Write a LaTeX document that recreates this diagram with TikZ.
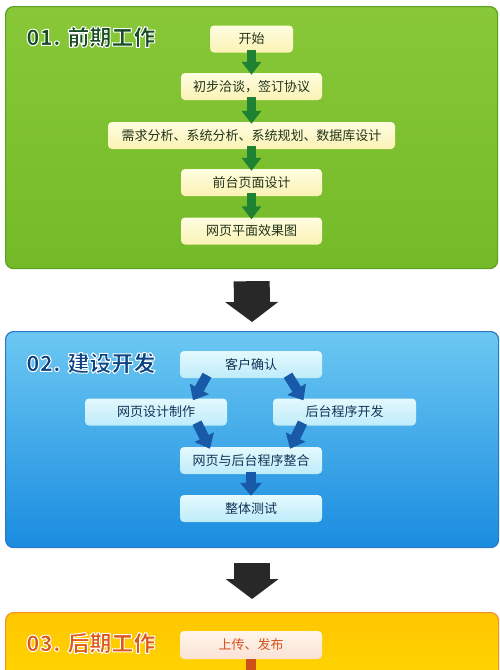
\documentclass[tikz,border=0pt]{standalone}
\usepackage{fontspec}
\setmainfont{Noto Sans CJK SC}
\usetikzlibrary{arrows.meta}

\definecolor{gpaneltop}{RGB}{136,200,56}
\definecolor{gpanelbot}{RGB}{116,186,40}
\definecolor{gpaneledge}{RGB}{92,160,32}
\definecolor{gboxtop}{RGB}{255,253,225}
\definecolor{gboxbot}{RGB}{250,242,180}
\definecolor{gtext}{RGB}{34,52,24}
\definecolor{gtitle}{RGB}{24,78,36}
\definecolor{garrow}{RGB}{30,130,50}
\definecolor{bpaneltop}{RGB}{108,200,242}
\definecolor{bpanelbot}{RGB}{26,140,224}
\definecolor{bpaneledge}{RGB}{40,120,196}
\definecolor{bboxtop}{RGB}{228,249,253}
\definecolor{bboxbot}{RGB}{190,236,250}
\definecolor{btext}{RGB}{20,50,88}
\definecolor{btitle}{RGB}{12,68,132}
\definecolor{barrow}{RGB}{24,90,168}
\definecolor{opaneltop}{RGB}{255,198,0}
\definecolor{opanelbot}{RGB}{255,224,0}
\definecolor{opaneledge}{RGB}{240,150,40}
\definecolor{oboxtop}{RGB}{255,245,236}
\definecolor{oboxbot}{RGB}{250,226,212}
\definecolor{otext}{RGB}{214,80,30}
\definecolor{otitle}{RGB}{222,88,28}
\definecolor{oarrow}{RGB}{205,80,25}
\definecolor{darkflow}{RGB}{40,40,40}

% title text: filled, with a white stroke round it
\newcommand{\ringtext}[2]{\textcolor{#1}{\special{pdf:literal direct 1 1 1 RG 1 w 1 j 2 Tr}#2\special{pdf:literal direct 0 Tr}}}

\tikzset{
  panel/.style={line width=1.2pt, rounded corners=8pt, anchor=north west,
    minimum width=492pt, inner sep=0pt},
  title/.style={anchor=west, inner sep=0pt, font=\fontsize{22}{22}\selectfont\bfseries},
  stepbox/.style={rounded corners=4pt, minimum height=27pt, inner sep=2pt,
    font=\fontsize{13}{13}\selectfont},
  greenbox/.style={stepbox, top color=gboxtop, bottom color=gboxbot, text=gtext},
  bluebox/.style={stepbox, top color=bboxtop, bottom color=bboxbot, text=btext},
  orangebox/.style={stepbox, top color=oboxtop, bottom color=oboxbot, text=otext},
  flow/.style={line width=9pt, -{Triangle[width=19pt,length=13pt]}},
  greenflow/.style={flow, draw=garrow, shorten >=-2pt, shorten <=-3pt},
  blueflow/.style={flow, line width=10pt, draw=barrow, -{Triangle[width=21pt,length=13pt]}},
  orangeflow/.style={flow, line width=10pt, draw=oarrow},
  bigflow/.style={line width=36pt, draw=darkflow, -{Triangle[width=52pt,length=20pt]}},
}

\begin{document}
\begin{tikzpicture}[x=1pt,y=-1pt]
	\useasboundingbox (0,0) rectangle (500,670);
	\fill[white] (0,0) rectangle (500,670);
	\clip (0,0) rectangle (500,670);
	
	% panels
	\node[panel, draw=gpaneledge, top color=gpaneltop, bottom color=gpanelbot, minimum height=262pt] (early) at (5,6) {};
	\node[panel, draw=bpaneledge, top color=bpaneltop, bottom color=bpanelbot, minimum width=493pt, minimum height=216pt] (build) at (5,331) {};
	\node[panel, draw=opaneledge, top color=opaneltop, bottom color=opanelbot, minimum width=493pt, minimum height=120pt] (late) at (5,612) {};
	
	\node[title] (earlytitle) at (26,37) {\ringtext{gtitle}{01. 前期工作}};
	\node[title] (buildtitle) at (26,363) {\ringtext{btitle}{02. 建设开发}};
	\node[title] (latetitle) at (26,643) {\ringtext{otitle}{03. 后期工作}};
	
	% 01
	\node[greenbox, minimum width=83pt] (kaishi) at (251.5,39) {开始};
	\node[greenbox, minimum width=141pt] (qiatan) at (251.5,86.5) {初步洽谈，签订协议};
	\node[greenbox, minimum width=287pt] (fenxi) at (251.5,135.5) {需求分析、系统分析、系统规划、数据库设计};
	\node[greenbox, minimum width=141pt] (qiantai) at (251.5,182.5) {前台页面设计};
	\node[greenbox, minimum width=141pt] (xiaoguo) at (251.5,231) {网页平面效果图};
	
	\draw[greenflow] (kaishi.south) -- (qiatan.north);
	\draw[greenflow] (qiatan.south) -- (fenxi.north);
	\draw[greenflow] (fenxi.south) -- (qiantai.north);
	\draw[greenflow] (qiantai.south) -- (xiaoguo.north);
	
	% 02
	\node[bluebox, minimum width=142pt] (queren) at (251,364.5) {客户确认};
	\node[bluebox, minimum width=142pt] (wangye) at (156,412) {网页设计制作};
	\node[bluebox, minimum width=143pt] (houtai) at (344.5,412) {后台程序开发};
	\node[bluebox, minimum width=142pt] (zhenghe) at (251,460.5) {网页与后台程序整合};
	\node[bluebox, minimum width=142pt] (ceshi) at (251,508.5) {整体测试};
	
	\draw[blueflow] ([xshift=-44pt,yshift=3pt]queren.south) -- ([xshift=37pt,yshift=-2pt]wangye.north);
	\draw[blueflow] ([xshift=37pt,yshift=3pt]queren.south) -- ([xshift=-41pt,yshift=-2pt]houtai.north);
	\draw[blueflow] ([xshift=41pt,yshift=3pt]wangye.south) -- ([xshift=-41pt,yshift=-2pt]zhenghe.north);
	\draw[blueflow] ([xshift=-42pt,yshift=3pt]houtai.south) -- ([xshift=39pt,yshift=-2pt]zhenghe.north);
	\draw[blueflow] ([yshift=2pt]zhenghe.south) -- ([yshift=-1pt]ceshi.north);
	
	% 03
	\node[orangebox, minimum width=142pt, minimum height=28pt] (fabu) at (251,645) {上传、发布};
	\coordinate (next) at (251,700);
	\draw[orangeflow] (fabu.south) -- (next);
	
	% between panels
	\draw[bigflow, shorten <=12pt, shorten >=9pt] (early.south) -- (build.north);
	\draw[bigflow, shorten <=15pt, shorten >=13pt] (build.south) -- (late.north);
\end{tikzpicture}
\end{document}
